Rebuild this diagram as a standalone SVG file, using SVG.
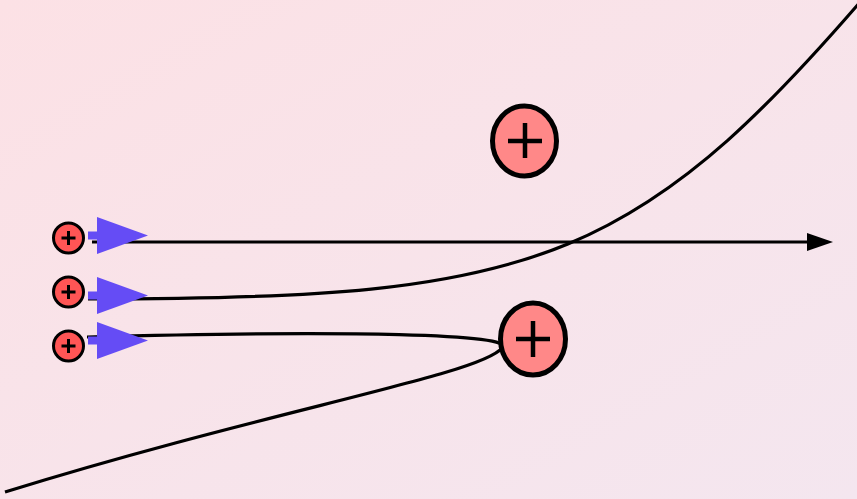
<svg xmlns="http://www.w3.org/2000/svg" width="857" height="499" viewBox="0 0 857 499">
<defs>
<linearGradient id="bg" x1="0" y1="0" x2="1" y2="1">
<stop offset="0" stop-color="#fce1e5"/>
<stop offset="1" stop-color="#f4e6ef"/>
</linearGradient>
<marker id="ah" viewBox="0 0 26 18" refX="0" refY="9" markerWidth="26" markerHeight="18" markerUnits="userSpaceOnUse" orient="auto">
<path d="M0 0 L26 9 L0 18 Z" fill="#000"/>
</marker>
<g id="barrow">
<rect x="-9" y="-4" width="11" height="8"/>
<path d="M0 -18.5 L51 0 L0 18.5 Z"/>
</g>
</defs>
<style>
.ln{fill:none;stroke:#000;stroke-width:3.2}
.sm{fill:#f55;stroke:#000;stroke-width:3}
.big{fill:#ff8888;stroke:#000;stroke-width:5}
.pl{stroke:#000;fill:none}
.blue{fill:#654cf5}
</style>
<rect width="857" height="499" fill="url(#bg)"/>
<g id="connectors">
<path class="ln" d="M92 242 H807" marker-end="url(#ah)"/>
<path class="ln" d="M88 299 C545 299 640 267 900 -45"/>
<path class="ln" d="M87 337 C350 330 518 334 502 348 C480 375 270 410 5 492"/>
</g>
<g id="arrows" class="blue">
<use href="#barrow" x="97" y="235.5"/>
<use href="#barrow" x="97" y="295.5"/>
<use href="#barrow" x="97" y="340.5"/>
</g>
<g id="node1"><circle class="sm" cx="68.5" cy="238" r="15"/><path class="pl" stroke-width="3" d="M61.5 238 H75.5 M68.5 231 V245"/></g>
<g id="node2"><circle class="sm" cx="68.5" cy="292" r="15"/><path class="pl" stroke-width="3" d="M61.5 292 H75.5 M68.5 285 V299"/></g>
<g id="node3"><circle class="sm" cx="68.5" cy="346" r="15"/><path class="pl" stroke-width="3" d="M61.5 346 H75.5 M68.5 339 V353"/></g>
<g id="node4"><ellipse class="big" cx="524.5" cy="141" rx="32" ry="35"/><path class="pl" stroke-width="4.5" d="M508 141 H542 M525 123 V158"/></g>
<g id="node5"><ellipse class="big" cx="533" cy="339" rx="32.5" ry="36"/><path class="pl" stroke-width="4.5" d="M516 339 H550 M533 321 V357"/></g>
</svg>
